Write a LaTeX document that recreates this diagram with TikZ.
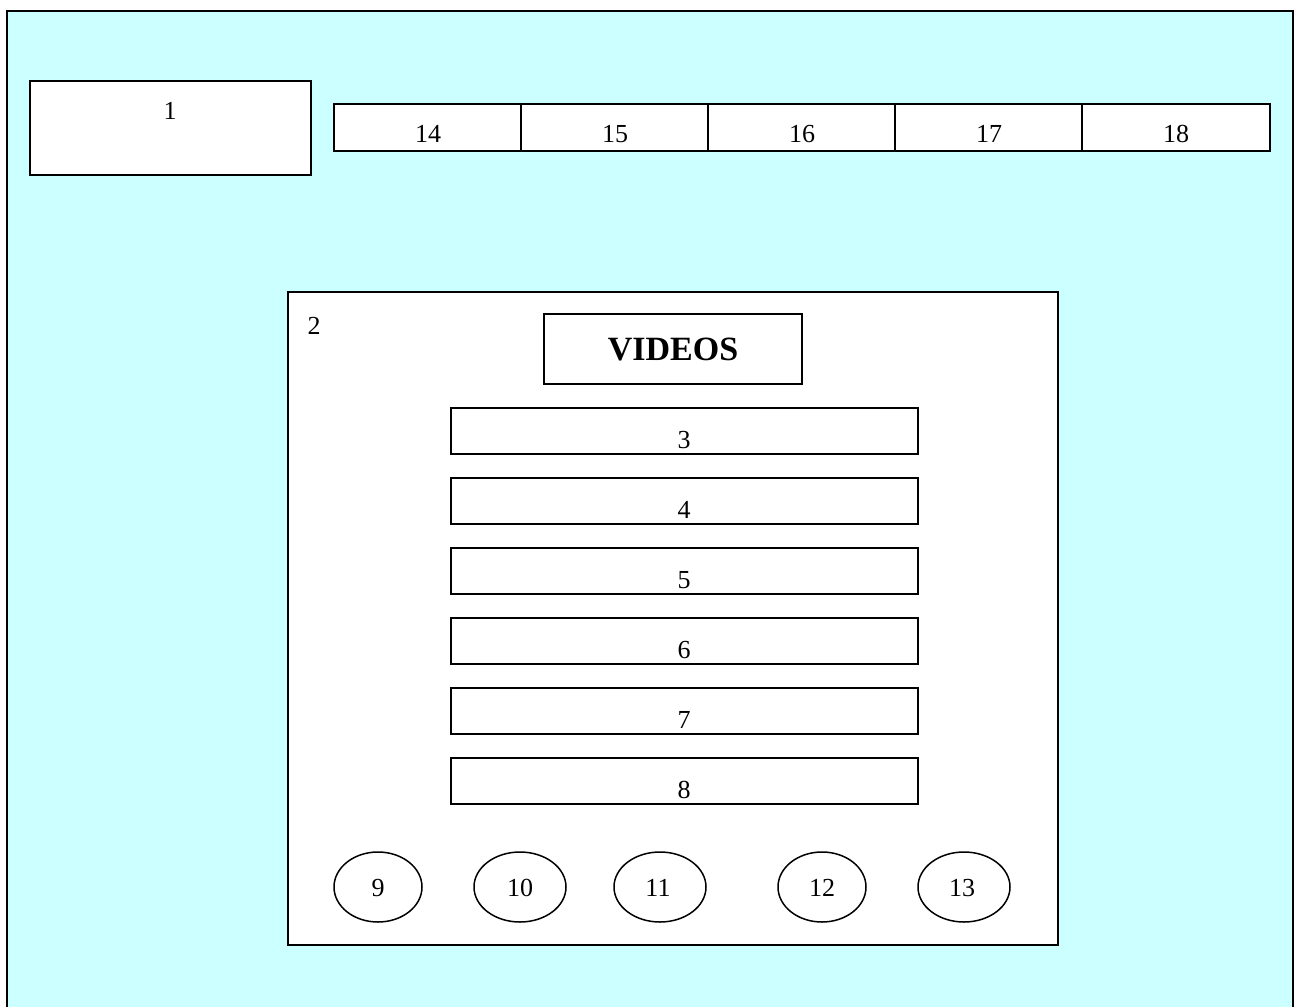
\documentclass[tikz,border=0pt]{standalone}
\usepackage{fontspec}
\setmainfont{Liberation Serif}
\usetikzlibrary{shapes.geometric}
\definecolor{bgcyan}{HTML}{CCFFFF}
\tikzset{
  wbox/.style={draw, fill=white, line width=1.5pt, inner sep=0pt, outer sep=0pt, rectangle},
  oval/.style={draw, fill=white, line width=1.5pt, inner sep=0pt, outer sep=0pt, ellipse, minimum width=88pt, minimum height=70pt},
  lbl/.style={inner sep=0pt, anchor=base, font=\fontsize{26}{30}\selectfont},
  rowbox/.style={wbox, minimum width=467pt, minimum height=46pt},
  tab/.style={wbox, minimum width=187pt, minimum height=47pt}
}
\begin{document}
\begin{tikzpicture}[x=1pt,y=-1pt]
\useasboundingbox (0,0) rectangle (1301,1007);
\fill[white] (0,0) rectangle (1301,1007);
\fill[bgcyan] (7,11) rectangle (1293,1007);
\draw[line width=2pt] (7,1007) -- (7,11) -- (1293,11) -- (1293,1007);
% box 1
\node[wbox, minimum width=281pt, minimum height=94pt] (b1) at (170.5,128) {};
\node[lbl] (t1) at (170,119) {1};
% tabs
\node[tab] (tb14) at (427.5,127.5) {};
\node[tab] (tb15) at (614.5,127.5) {};
\node[tab] (tb16) at (801.5,127.5) {};
\node[tab] (tb17) at (988.5,127.5) {};
\node[tab, minimum width=188pt] (tb18) at (1176,127.5) {};
\node[lbl] at (428,142) {14};
\node[lbl] at (615,142) {15};
\node[lbl] at (802,142) {16};
\node[lbl] at (989,142) {17};
\node[lbl] at (1176,142) {18};
% main box 2
\node[wbox, minimum width=770pt, minimum height=653pt] (b2) at (673,618.5) {};
\node[lbl] (t2) at (314,334) {2};
% videos title
\node[wbox, minimum width=258pt, minimum height=70pt] (vid) at (673,349) {};
\node[inner sep=0pt, anchor=base, font=\fontsize{34}{40}\selectfont\bfseries] (tv) at (673,360) {VIDEOS};
% rows
\node[rowbox] (r3) at (684.5,431) {};
\node[rowbox] (r4) at (684.5,501) {};
\node[rowbox] (r5) at (684.5,571) {};
\node[rowbox] (r6) at (684.5,641) {};
\node[rowbox] (r7) at (684.5,711) {};
\node[rowbox] (r8) at (684.5,781) {};
\node[lbl] at (684,448) {3};
\node[lbl] at (684,518) {4};
\node[lbl] at (684,588) {5};
\node[lbl] at (684,658) {6};
\node[lbl] at (684,728) {7};
\node[lbl] at (684,798) {8};
% ovals
\node[oval] (c9) at (378,887) {};
\node[oval, minimum width=92pt] (c10) at (520,887) {};
\node[oval, minimum width=92pt] (c11) at (660,887) {};
\node[oval] (c12) at (822,887) {};
\node[oval, minimum width=92pt] (c13) at (964,887) {};
\node[lbl] at (378,896) {9};
\node[lbl] at (520,896) {10};
\node[lbl] at (658,896) {11};
\node[lbl] at (822,896) {12};
\node[lbl] at (962,896) {13};
\end{tikzpicture}
\end{document}
